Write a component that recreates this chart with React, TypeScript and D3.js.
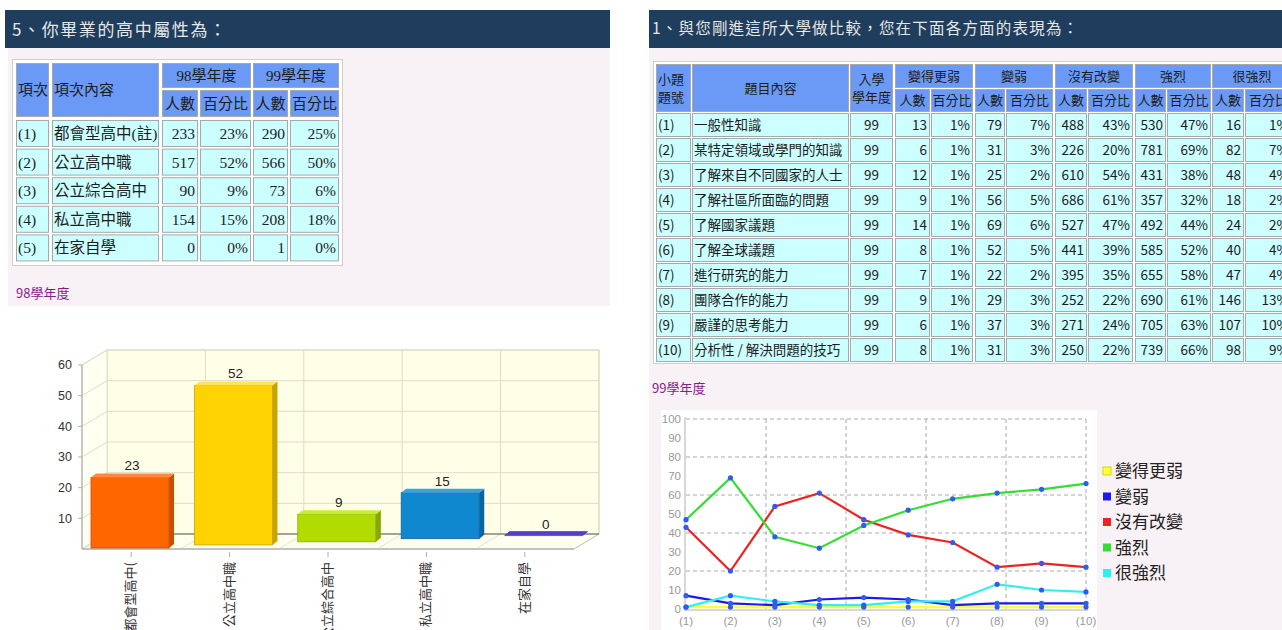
import React from "react";
import * as d3 from "d3";

// ---------- data: left panel (98學年度) ----------
const schoolTypes = ["都會型高中(註)", "公立高中職", "公立綜合高中", "私立高中職", "在家自學"];
const schoolNos = ["(1)", "(2)", "(3)", "(4)", "(5)"];
const count98 = [233, 517, 90, 154, 0];
const pct98 = [23, 52, 9, 15, 0];
const count99 = [290, 566, 73, 208, 1];
const pct99 = [25, 50, 6, 18, 0];
const barLabels = ["都會型高中(", "公立高中職", "公立綜合高中", "私立高中職", "在家自學"];
const barYTicks = [10, 20, 30, 40, 50, 60];

// ---------- data: right panel (99學年度) ----------
const itemNos = ["(1)", "(2)", "(3)", "(4)", "(5)", "(6)", "(7)", "(8)", "(9)", "(10)"];
const items = [
  "一般性知識", "某特定領域或學門的知識", "了解來自不同國家的人士", "了解社區所面臨的問題",
  "了解國家議題", "了解全球議題", "進行研究的能力", "團隊合作的能力", "嚴謹的思考能力", "分析性 / 解決問題的技巧",
];
const entryYear = [99, 99, 99, 99, 99, 99, 99, 99, 99, 99];
const levels = ["變得更弱", "變弱", "沒有改變", "強烈", "很強烈"];
const cntWeaker = [13, 6, 12, 9, 14, 8, 7, 9, 6, 8];
const pctWeaker = [1, 1, 1, 1, 1, 1, 1, 1, 1, 1];
const cntWeak = [79, 31, 25, 56, 69, 52, 22, 29, 37, 31];
const pctWeak = [7, 3, 2, 5, 6, 5, 2, 3, 3, 3];
const cntSame = [488, 226, 610, 686, 527, 441, 395, 252, 271, 250];
const pctSame = [43, 20, 54, 61, 47, 39, 35, 22, 24, 22];
const cntStrong = [530, 781, 431, 357, 492, 585, 655, 690, 705, 739];
const pctStrong = [47, 69, 38, 32, 44, 52, 58, 61, 63, 66];
const cntVStrong = [16, 82, 48, 18, 24, 40, 47, 146, 107, 98];
const pctVStrong = [1, 7, 4, 2, 2, 4, 4, 13, 10, 9];
const lineYTicks = [0, 10, 20, 30, 40, 50, 60, 70, 80, 90, 100];

// ---------- styles ----------
const HEAD_BG = "#1f3e5d";
const PINK = "#f8f1f5";
const TH_BG = "#6b9af6";
const TD_BG = "#ccffff";
const CELL_BORDER = "#a8a8a8";
const CJK = "'Noto Sans CJK TC', 'Noto Sans', sans-serif";
const SERIF_CJK = "'Liberation Serif', 'Noto Sans CJK TC', serif";
const SANS = "'Liberation Sans', Arial, sans-serif";

const barColors = [
  { front: "#ff6600", side: "#c45000", top: "#ff8a3d" },
  { front: "#ffd200", side: "#c9a400", top: "#ffe35a" },
  { front: "#b2dc00", side: "#86a800", top: "#c8ec3a" },
  { front: "#0f88cf", side: "#0a64a0", top: "#3aa2e0" },
  { front: "#5540cc", side: "#3a2a99", top: "#5a46d6" },
];
const lineColors = ["#ffff33", "#1a1aee", "#ee2222", "#33dd33", "#33eeee"];

type Cell = { x0: number; x1: number; y0: number; y1: number; fill: string; text?: string | string[]; align?: "start" | "middle" | "end"; size: number; font: string; color?: string };

function TableCell({ c }: { c: Cell }) {
  const lines = Array.isArray(c.text) ? c.text : c.text !== undefined ? [c.text] : [];
  const cy = (c.y0 + c.y1) / 2;
  const lh = c.size + 5;
  const tx = c.align === "end" ? c.x1 - 3 : c.align === "middle" ? (c.x0 + c.x1) / 2 : c.x0 + 2;
  return (
    <g>
      <rect x={c.x0 + 0.5} y={c.y0 + 0.5} width={c.x1 - c.x0 - 1} height={c.y1 - c.y0 - 1} fill={c.fill} stroke={CELL_BORDER} strokeWidth={1} />
      {lines.map((t, k) => (
        <text key={k} x={tx} y={cy + (k - (lines.length - 1) / 2) * lh} dy="0.36em" textAnchor={c.align || "start"} fontSize={c.size} fontFamily={c.font} fill={c.color || "#1c1c1c"}>
          {t}
        </text>
      ))}
    </g>
  );
}

function LeftTable() {
  const cols = [[16, 49], [52, 159], [162, 198], [200, 251], [253, 288], [290, 339]];
  const cells: Cell[] = [];
  const f = SERIF_CJK;
  const hs = 15;
  cells.push({ x0: cols[0][0], x1: cols[0][1], y0: 63, y1: 117, fill: TH_BG, text: "項次", size: hs, font: f });
  cells.push({ x0: cols[1][0], x1: cols[1][1], y0: 63, y1: 117, fill: TH_BG, text: "項次內容", size: hs, font: f });
  cells.push({ x0: cols[2][0], x1: cols[3][1], y0: 63, y1: 88, fill: TH_BG, text: "98學年度", align: "middle", size: hs, font: f });
  cells.push({ x0: cols[4][0], x1: cols[5][1], y0: 63, y1: 88, fill: TH_BG, text: "99學年度", align: "middle", size: hs, font: f });
  ["人數", "百分比", "人數", "百分比"].forEach((t, k) =>
    cells.push({ x0: cols[k + 2][0], x1: cols[k + 2][1], y0: 90, y1: 117, fill: TH_BG, text: t, align: "middle", size: hs, font: f })
  );
  schoolTypes.forEach((s, i) => {
    const y0 = 120 + i * 28.6;
    const y1 = y0 + 27;
    const vals = [schoolNos[i], s, String(count98[i]), pct98[i] + "%", String(count99[i]), pct99[i] + "%"];
    vals.forEach((v, k) =>
      cells.push({ x0: cols[k][0], x1: cols[k][1], y0, y1, fill: TD_BG, text: v, align: k < 2 ? "start" : "end", size: 15.5, font: f })
    );
  });
  return (
    <g>
      <rect x={12.5} y={59.5} width={330} height={206} fill="#ffffff" stroke="#cfcfcf" />
      {cells.map((c, k) => <TableCell key={k} c={c} />)}
    </g>
  );
}

function RightTable() {
  const cols = [[656, 691], [692, 849], [850, 893], [895, 930], [931, 973], [975, 1005], [1006, 1053], [1055, 1087], [1088, 1133], [1135, 1166], [1167, 1211], [1212, 1244], [1245, 1292]];
  const cells: Cell[] = [];
  const f = CJK;
  const hs = 13;
  cells.push({ x0: cols[0][0], x1: cols[0][1], y0: 64, y1: 112, fill: TH_BG, text: ["小題", "題號"], size: hs, font: f });
  cells.push({ x0: cols[1][0], x1: cols[1][1], y0: 64, y1: 112, fill: TH_BG, text: "題目內容", align: "middle", size: hs, font: f });
  cells.push({ x0: cols[2][0], x1: cols[2][1], y0: 64, y1: 112, fill: TH_BG, text: ["入學", "學年度"], align: "middle", size: hs, font: f });
  levels.forEach((lv, j) => {
    cells.push({ x0: cols[3 + 2 * j][0], x1: cols[4 + 2 * j][1], y0: 64, y1: 88, fill: TH_BG, text: lv, align: "middle", size: hs, font: f });
    cells.push({ x0: cols[3 + 2 * j][0], x1: cols[3 + 2 * j][1], y0: 89, y1: 112, fill: TH_BG, text: "人數", align: "middle", size: hs, font: f });
    cells.push({ x0: cols[4 + 2 * j][0], x1: cols[4 + 2 * j][1], y0: 89, y1: 112, fill: TH_BG, text: "百分比", align: "middle", size: hs, font: f });
  });
  const cnts = [cntWeaker, cntWeak, cntSame, cntStrong, cntVStrong];
  const pcts = [pctWeaker, pctWeak, pctSame, pctStrong, pctVStrong];
  items.forEach((it, i) => {
    const y0 = 113 + i * 25;
    const y1 = y0 + 24;
    const vals = [itemNos[i], it, String(entryYear[i])];
    cnts.forEach((c, j) => { vals.push(String(c[i])); vals.push(pcts[j][i] + "%"); });
    vals.forEach((v, k) =>
      cells.push({ x0: cols[k][0], x1: cols[k][1], y0, y1, fill: TD_BG, text: v, align: k < 2 ? "start" : k === 2 ? "middle" : "end", size: 13.5, font: f })
    );
  });
  return (
    <g>
      <rect x={653.5} y={61.5} width={640} height={302} fill="#ffffff" stroke="#cfcfcf" />
      {cells.map((c, k) => <TableCell key={k} c={c} />)}
    </g>
  );
}

function BarChart3D() {
  const y = d3.scaleLinear().domain([0, 60]).range([549, 365]);
  const dx = 25, dy = -15;
  const frontL = 82, frontR = 574;
  const backL = frontL + dx, backR = 599;
  const cats = barLabels;
  const xFront = d3.scaleBand<string>().domain(cats).range([frontL, frontR]);
  const xBar = d3.scaleBand<string>().domain(cats).range([frontL, backR]);
  const xBack = d3.scaleBand<string>().domain(cats).range([backL, backR]);
  const pxPerUnit = (y(0) - y(60)) / 60;
  const bw = xBar.bandwidth() * 0.755;
  const bd = 5, bh = -4;
  const grid = "#dcdcc6";
  return (
    <g>
      <rect x={backL} y={y(60) + dy} width={backR - backL} height={y(0) - y(60)} fill="#ffffe8" stroke={grid} />
      <polygon points={`${frontL},${y(0)} ${frontL},${y(60)} ${backL},${y(60) + dy} ${backL},${y(0) + dy}`} fill="#fffff2" stroke={grid} />
      {barYTicks.map((t) => (
        <g key={t}>
          <line x1={backL} x2={backR} y1={y(t) + dy} y2={y(t) + dy} stroke={grid} />
          <line x1={frontL} x2={backL} y1={y(t)} y2={y(t) + dy} stroke={grid} />
        </g>
      ))}
      {cats.map((c) => (
        <line key={c} x1={(xBack(c) as number) + xBack.step()} x2={(xBack(c) as number) + xBack.step()} y1={y(60) + dy} y2={y(0) + dy} stroke={grid} />
      ))}
      <polygon points={`${frontL},${y(0)} ${frontR},${y(0)} ${backR},${y(0) + dy} ${backL},${y(0) + dy}`} fill="#fffff0" stroke="#bdbdb0" />
      {cats.map((c) => (
        <line key={"f" + c} x1={xFront(c) as number} x2={xBack(c) as number} y1={y(0)} y2={y(0) + dy} stroke="#e2e2d2" />
      ))}
      <line x1={backL} x2={backR} y1={y(0) + dy} y2={y(0) + dy} stroke="#6a6a60" strokeWidth={1} />
      <line x1={frontL} x2={frontR} y1={y(0)} y2={y(0)} stroke="#b8b8b8" strokeWidth={1.5} />
      <line x1={frontL} x2={frontL} y1={y(0)} y2={y(60)} stroke="#b0b0b0" strokeWidth={1.2} />
      {barYTicks.map((t) => (
        <g key={"yt" + t}>
          <line x1={frontL - 4} x2={frontL} y1={y(t)} y2={y(t)} stroke="#b0b0b0" />
          <text x={frontL - 10} y={y(t)} dy="0.35em" textAnchor="end" fontSize={12.5} fontFamily={SANS} fill="#333">{t}</text>
        </g>
      ))}
      {cats.map((c, i) => {
        const base = y(0) - 1 - i * 3.1;
        const h = pct98[i] * pxPerUnit;
        const x0 = (xBar(c) as number) + 9;
        const top = base - h;
        const col = barColors[i];
        return (
          <g key={"b" + c}>
            {h > 0 && <rect x={x0} y={top} width={bw} height={h} fill={col.front} stroke={col.side} strokeWidth={0.8} />}
            {h > 0 && <polygon points={`${x0 + bw},${top} ${x0 + bw + bd},${top + bh} ${x0 + bw + bd},${base + bh} ${x0 + bw},${base}`} fill={col.side} />}
            <polygon points={`${x0},${top} ${x0 + bd},${top + bh} ${x0 + bw + bd},${top + bh} ${x0 + bw},${top}`} fill={h > 0 ? col.top : col.front} stroke={h > 0 ? "none" : col.side} strokeWidth={0.6} />
            <text x={x0 + bw / 2 + 2} y={top - 7} textAnchor="middle" fontSize={13.5} fontFamily={SANS} fill="#222">{pct98[i]}</text>
          </g>
        );
      })}
      {cats.map((c) => {
        const cx = (xFront(c) as number) + xFront.bandwidth() / 2;
        return (
          <g key={"xl" + c}>
            <line x1={cx} x2={cx} y1={y(0) + 3} y2={y(0) + 8} stroke="#b0b0b0" />
            <text transform={`translate(${cx + 4},${y(0) + 13}) rotate(-90)`} textAnchor="end" fontSize={13} fontFamily={CJK} fill="#333">{c}</text>
          </g>
        );
      })}
    </g>
  );
}

function LineChart() {
  const x = d3.scalePoint<string>().domain(itemNos).range([686, 1086]);
  const y = d3.scaleLinear().domain([0, 100]).range([609, 419]);
  const series = [pctWeaker, pctWeak, pctSame, pctStrong, pctVStrong];
  const line = d3.line<number>().x((_, i) => x(itemNos[i]) as number).y((d) => y(d));
  const gridX = d3.range(1, 6).map((k) => 686 + (400 / 5) * k);
  return (
    <g>
      <rect x={661} y={410} width={436} height={222} fill="#ffffff" />
      {[20, 40, 60, 80, 100].map((t) => (
        <line key={t} x1={686} x2={1086} y1={y(t)} y2={y(t)} stroke="#aaaaaa" strokeDasharray="4,3" />
      ))}
      {gridX.map((gx) => (
        <line key={gx} x1={gx} x2={gx} y1={y(100)} y2={y(0)} stroke="#aaaaaa" strokeDasharray="4,3" />
      ))}
      <line x1={685} x2={685} y1={y(100) - 2} y2={y(0) + 2} stroke="#b0b0b0" />
      <line x1={685} x2={1088} y1={y(0) + 1} y2={y(0) + 1} stroke="#b0b0b0" />
      {lineYTicks.map((t) => (
        <text key={t} x={681} y={y(t)} dy="0.35em" textAnchor="end" fontSize={11.5} fontFamily={SANS} fill="#999">{t}</text>
      ))}
      {itemNos.map((n) => (
        <text key={n} x={x(n) as number} y={625} textAnchor="middle" fontSize={11.5} fontFamily={SANS} fill="#999">{n}</text>
      ))}
      {series.map((s, j) => (
        <path key={j} d={line(s) || ""} fill="none" stroke={lineColors[j]} strokeWidth={2.2} />
      ))}
      {series.map((s, j) =>
        s.map((v, i) => <circle key={j + "-" + i} cx={x(itemNos[i]) as number} cy={y(v)} r={2.6} fill="#2f5cf0" />)
      )}
      {levels.map((lv, j) => (
        <g key={lv}>
          <rect x={1103} y={467 + j * 25.5} width={8} height={8} fill={lineColors[j]} stroke={j === 0 ? "#d8d800" : "none"} />
          <text x={1115} y={471 + j * 25.5} dy="0.36em" fontSize={17} fontFamily={CJK} fill="#222">{lv}</text>
        </g>
      ))}
    </g>
  );
}

export default function App() {
  return (
    <svg width={1282} height={630} style={{ position: "absolute", left: 0, top: 0, background: "#ffffff" }}>
      <rect x={8} y={48} width={602} height={258} fill={PINK} />
      <rect x={5} y={10} width={605} height={38} fill={HEAD_BG} />
      <text x={12} y={30} dy="0.35em" fontSize={17} letterSpacing={1.6} fontFamily={CJK} fill="#e6e6e6">5、你畢業的高中屬性為：</text>
      <LeftTable />
      <text x={16} y={293} dy="0.35em" fontSize={13} fontFamily={CJK} fill="#8a1a8a">98學年度</text>
      <BarChart3D />
      <rect x={649} y={48} width={633} height={582} fill={PINK} />
      <rect x={649} y={10} width={633} height={38} fill={HEAD_BG} />
      <text x={652} y={29} dy="0.35em" fontSize={15.5} letterSpacing={1.2} fontFamily={CJK} fill="#e6e6e6">1、與您剛進這所大學做比較，您在下面各方面的表現為：</text>
      <RightTable />
      <text x={652} y={388} dy="0.35em" fontSize={13} fontFamily={CJK} fill="#8a1a8a">99學年度</text>
      <LineChart />
    </svg>
  );
}
